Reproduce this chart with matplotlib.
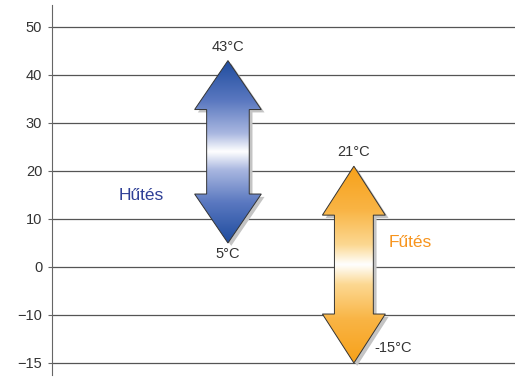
import numpy as np
import matplotlib.pyplot as plt
from matplotlib.colors import LinearSegmentedColormap
from matplotlib.patches import Polygon

plt.rcParams['font.family'] = ['Liberation Sans', 'DejaVu Sans']

# data
labels = ['Hűtés', 'Fűtés']
tops = [43, 21]
bottoms = [5, -15]
label_colors = ['#2e3f96', '#f7941d']
tick_vals = [50, 40, 30, 20, 10, 0, -10, -15]
tick_text = ['50', '40', '30', '20', '10', '0', '\u221210', '\u221215']


def ypos(v):
    # axis below -10 is stretched: -15 sits one full step under -10
    v = np.asarray(v, dtype=float)
    return np.where(v >= -10, v, -10 + (v + 10) * 2)


fig = plt.figure(figsize=(5.15, 3.78), dpi=100)
ax = fig.add_axes([0.101, 0.008, 0.899, 0.979])
ax.set_xlim(0, 10)
ax.set_ylim(-22.5, 54.6)

for v in tick_vals:
    ax.axhline(float(ypos(v)), color='#555555', lw=0.9, zorder=1)
ax.set_yticks(ypos(tick_vals))
ax.set_yticklabels(tick_text, fontsize=10.5, color='#333333')
ax.set_xticks([])
for s in ['top', 'right', 'bottom']:
    ax.spines[s].set_visible(False)
ax.spines['left'].set_color('#666666')
ax.tick_params(axis='y', length=3, color='#666666', pad=4)

centers = [3.80, 6.52]
head_w = [0.72, 0.68]
shaft_w = [0.46, 0.42]
head_len = 10.2
stops = [0, 0.22, 0.4, 0.5, 0.6, 0.78, 1]
cmaps = [
    LinearSegmentedColormap.from_list('b', list(zip(stops, ['#1f4c9e', '#5a78c0', '#a9b7e0', '#ffffff',
                                                            '#a9b7e0', '#5a78c0', '#1f4c9e']))),
    LinearSegmentedColormap.from_list('o', list(zip(stops, ['#f7a11a', '#f9b444', '#fcd892', '#ffffff',
                                                            '#fcd892', '#f9b444', '#f7a11a']))),
]

for i in range(2):
    c = centers[i]
    hw, sw = head_w[i], shaft_w[i]
    t, b = float(ypos(tops[i])), float(ypos(bottoms[i]))
    pts = [(c, t), (c + hw, t - head_len), (c + sw, t - head_len), (c + sw, b + head_len),
           (c + hw, b + head_len), (c, b), (c - hw, b + head_len), (c - sw, b + head_len),
           (c - sw, t - head_len), (c - hw, t - head_len)]
    pts = np.array(pts)
    shadow = Polygon(pts + np.array([0.07, -0.6]), closed=True, fc='#c4c4c4', ec='none', zorder=2)
    ax.add_patch(shadow)
    poly = Polygon(pts, closed=True, fc='none', ec='#333333', lw=0.7, zorder=4)
    ax.add_patch(poly)
    grad = np.linspace(0, 1, 256).reshape(-1, 1)
    im = ax.imshow(grad, cmap=cmaps[i], aspect='auto', extent=(c - hw, c + hw, b, t),
                   origin='lower', zorder=3, interpolation='bicubic')
    im.set_clip_path(poly)

    ax.annotate(f'{tops[i]}°C', (c, t), xytext=(0, 5), textcoords='offset points',
                ha='center', va='bottom', fontsize=10.5, color='#333333')

ax.annotate(f'{bottoms[0]}°C', (centers[0], float(ypos(bottoms[0]))), xytext=(0, -3),
            textcoords='offset points', ha='center', va='top', fontsize=10.5, color='#333333')
ax.annotate(f'{bottoms[1]}°C', (centers[1], float(ypos(bottoms[1]))), xytext=(15, 11),
            textcoords='offset points', ha='left', va='center', fontsize=10.5, color='#333333')

ax.text(1.92, 14.8, labels[0], ha='center', va='center', fontsize=12.5, color=label_colors[0])
ax.text(7.73, 5.2, labels[1], ha='center', va='center', fontsize=12.5, color=label_colors[1])

fig.savefig('out.png', dpi=100)
